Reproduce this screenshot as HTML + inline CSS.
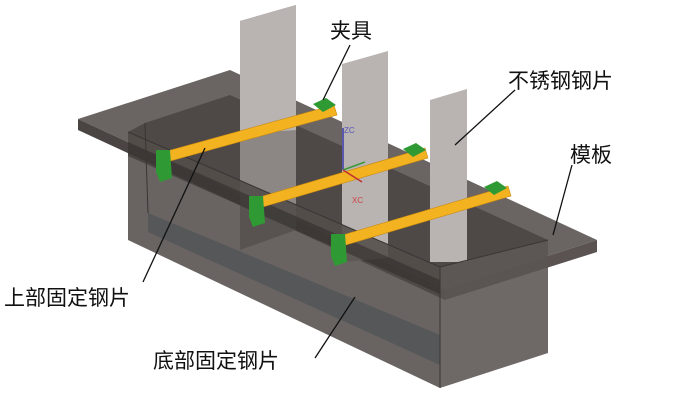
<!DOCTYPE html>
<html><head><meta charset="utf-8"><style>
html,body{margin:0;padding:0;background:#fff;}
svg{display:block;}
text{font-family:"Liberation Sans","Noto Sans CJK SC",sans-serif;font-size:21px;fill:#111;}
</style></head><body>
<svg width="700" height="403" viewBox="0 0 700 403">
<polygon points="78,119 230,70 597,240 445,289" fill="#6a6462"/>
<polygon points="78,119 445,289 445,300 78,130" fill="#4a4442"/>
<polygon points="445,289 597,240 597,252 445,300" fill="#5a5351"/>
<polygon points="145,123 230,95 548,240 440,267 128,132" fill="#4b4644" opacity="0.9"/>
<polygon points="240,21 296,5 296,230 240,250" fill="#8c8785"/>
<polygon points="240,21 296,5 296,130 240,134" fill="#b9b3b1"/>
<polygon points="342,64 388,51 388,258 342,262" fill="#b9b3b1"/>
<polygon points="430,100 467,89 467,262 430,262" fill="#b9b3b1"/>
<polygon points="128,132 440,267 440,388 128,240" fill="#4f4947" opacity="0.85"/>
<polygon points="440,267 548,240 548,353 440,388" fill="#5a5452" opacity="0.88"/>
<polygon points="148,213 440,335 440,365 148,232" fill="#34404a" opacity="0.35"/>
<polygon points="128,142 440,280 440,294 128,156" fill="#302b2a" opacity="0.55"/>
<polyline points="128,132 440,267 548,240" fill="none" stroke="#3a3534" stroke-width="1"/>
<line x1="440" y1="267" x2="440" y2="388" stroke="#3a3534"/>
<line x1="145" y1="123" x2="148" y2="213" stroke="#3a3534"/>
<g fill="#f3b21f" stroke="#c98a10" stroke-width="0.6">
<polygon points="160,153 334,105 337,115 163,163"/>
<polygon points="253,199 425,148 428,158 256,209"/>
<polygon points="336,237 508,186 511,196 339,247"/>
</g>
<g fill="#2f9a34">
<polygon points="313,104 326,98 336,105 323,112"/>
<polygon points="403,149 416,143 426,150 413,157"/>
<polygon points="484,187 497,181 507,188 494,195"/>
<polygon points="156,150 170,150 172,178 160,182 156,172"/>
<polygon points="249,196 263,196 265,223 253,227 249,217"/>
<polygon points="331,234 345,234 347,262 335,266 331,256"/>
</g>
<line x1="343" y1="128" x2="343" y2="170" stroke="#3a3aa8" stroke-width="1.5"/>
<line x1="343" y1="170" x2="365" y2="162" stroke="#3a9a3a" stroke-width="1.5"/>
<line x1="343" y1="170" x2="362" y2="182" stroke="#c03030" stroke-width="1.5"/>
<text x="344" y="133" style="font-size:8px;fill:#5555bb">ZC</text>
<text x="352" y="203" style="font-size:8px;fill:#cc4444">XC</text>
<g stroke="#111" stroke-width="1.3">
<line x1="350" y1="45" x2="323" y2="100"/>
<line x1="515" y1="90" x2="455" y2="145"/>
<line x1="572" y1="165" x2="553" y2="235"/>
<line x1="143" y1="282" x2="205" y2="148"/>
<line x1="315" y1="358" x2="355" y2="297"/>
</g>
<text x="330" y="38">夹具</text>
<text x="508" y="88">不锈钢钢片</text>
<text x="570" y="162">模板</text>
<text x="4" y="305">上部固定钢片</text>
<text x="153" y="368">底部固定钢片</text>
</svg>
</body></html>
